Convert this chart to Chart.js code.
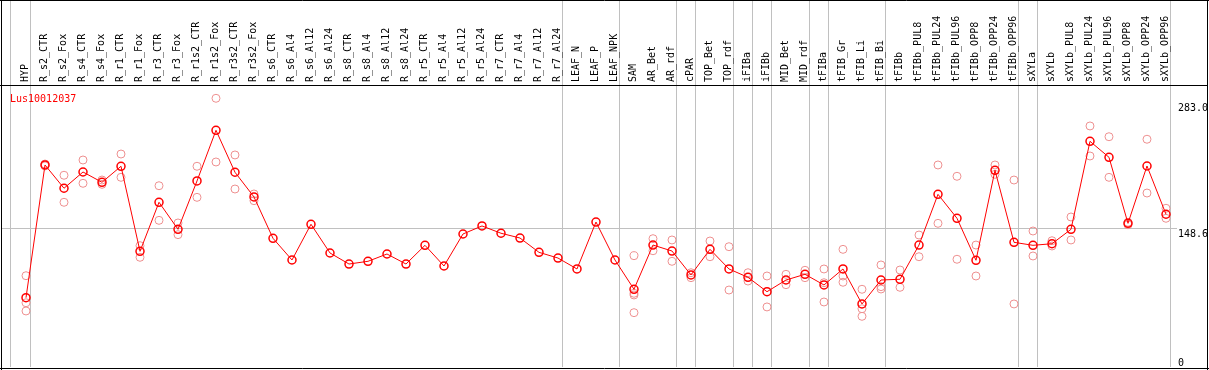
<html lang="en">
<head>
  <meta charset="UTF-8" />
  <title>Lus10012037</title>
  <script src="https://cdn.jsdelivr.net/npm/chart.js"></script>
  <style>
    body {
      margin: 0;
      background: white;
    }
    canvas {
      display: block;
    }
  </style>
</head>
<body>
  <canvas id="chart" width="1209" height="370"></canvas>

  <script>
    const geneName = "Lus10012037";

    const categories = [
      "HYP", "R_s2_CTR", "R_s2_Fox", "R_s4_CTR", "R_s4_Fox", "R_r1_CTR", "R_r1_Fox",
      "R_r3_CTR", "R_r3_Fox", "R_r1s2_CTR", "R_r1s2_Fox", "R_r3s2_CTR", "R_r3s2_Fox",
      "R_s6_CTR", "R_s6_Al4", "R_s6_Al12", "R_s6_Al24", "R_s8_CTR", "R_s8_Al4", "R_s8_Al12",
      "R_s8_Al24", "R_r5_CTR", "R_r5_Al4", "R_r5_Al12", "R_r5_Al24", "R_r7_CTR", "R_r7_Al4",
      "R_r7_Al12", "R_r7_Al24", "LEAF_N", "LEAF_P", "LEAF_NPK", "SAM", "AR_Bet", "AR_rdf",
      "cPAR", "TOP_Bet", "TOP_rdf", "iFIBa", "iFIBb", "MID_Bet", "MID_rdf", "tFIBa",
      "tFIB_Gr", "tFIB_Li", "tFIB_Bi", "tFIBb", "tFIBb_PUL8", "tFIBb_PUL24", "tFIBb_PUL96",
      "tFIBb_OPP8", "tFIBb_OPP24", "tFIBb_OPP96", "sXYLa", "sXYLb", "sXYLb_PUL8",
      "sXYLb_PUL24", "sXYLb_PUL96", "sXYLb_OPP8", "sXYLb_OPP24", "sXYLb_OPP96"
    ];

    // mean expression per sample
    const means = [
      74.1, 216.0, 191.1, 208.5, 197.5, 214.6, 123.7, 176.1, 147.2, 198.9, 253.1, 208.2, 181.8,
      137.6, 114.4, 152.6, 121.9, 110.1, 113.0, 120.8, 110.1, 130.1, 108.0, 142.2, 150.8,
      143.0, 137.9, 122.6, 116.5, 104.8, 155.0, 114.4, 83.1, 130.4, 124.0, 98.4, 125.8,
      104.8, 95.9, 80.5, 93.0, 99.1, 87.7, 104.8, 67.4, 93.0, 93.8, 130.4, 184.6, 159.0,
      114.1, 210.3, 133.3, 130.1, 131.8, 147.2, 241.3, 224.2, 153.6, 214.9, 163.3
    ];

    // replicates (null = no replicate shown)
    const repA = [
      97.6, 215, 205.0, 221.3, 199.9, 227.7, 129.7, 193.8, 154.0, 214.6, 287.3, 226.7, 185.0,
      null, null, null, null, null, null, null, null, null, null, null, null,
      null, null, null, null, null, null, null, 119.0, 137.2, 135.8, 100.8, 134.7,
      128.6, 100.8, 97.3, 99.1, 103.4, 104.8, 125.8, 83.1, 109.1, 103.7, 141.1, 216.0, 203.9,
      130.4, 216.0, 199.9, 145.4, 135.0, 160.4, 257.7, 246.2, 154.7, 243.5, 169.7
    ];
    const repB = [
      68.7, 217, 176.1, 196.4, 195.3, 202.8, 117.3, 156.8, 141.5, 181.4, 219.2, 190.3, 177.8,
      null, null, null, null, null, null, null, null, null, null, null, null,
      null, null, null, null, null, null, null, 78.8, 124.3, 113.0, 95.5, 117.9,
      82.3, 91.9, 64.2, 88.0, 95.5, 90.1, 97.3, 62.3, 85.9, 85.2, 117.9, 153.6, 115.2,
      97.3, 206.0, 67.4, 118.7, 129.4, 135.8, 225.6, 202.8, 152.1, 186.0, 159.0
    ];
    const repC = [
      59.9, null, null, null, null, null, null, null, null, null, null, null, null,
      null, null, null, null, null, null, null, null, null, null, null, null,
      null, null, null, null, null, null, null, 77.0, null, null, null, null,
      null, null, null, null, null, 69.5, 90.6, 54.2, 83.4, null, null, null, null,
      null, null, null, null, null, null, null, null, null, null, null
    ];
    const repD = [
      null, null, null, null, null, null, null, null, null, null, null, null, null,
      null, null, null, null, null, null, null, null, null, null, null, null,
      null, null, null, null, null, null, null, 58.1, null, null, null, null,
      null, null, null, null, null, null, null, null, null, null, null, null, null,
      null, null, null, null, null, null, null, null, null, null, null
    ];

    const yTicks = [0, 148.6, 283.0];
    const yMax = 301.5;
    // group separators (sit a quarter step right of a sample)
    const separators = [-0.8, 0.25, 28.25, 31.25, 34.25, 35.25, 37.25, 38.25, 39.25,
      41.25, 42.25, 45.25, 52.25, 53.25, 60.25];

    const X_MIN = -1.3158;
    const X_MAX = 60.579;
    const FONT = "DejaVu Sans Mono";

    const toPoints = arr => arr.map((v, i) => ({ x: i, y: v }));
    const noPad = s => { s.paddingLeft = 0; s.paddingRight = 0; };

    const repStyle = {
      type: "line",
      showLine: false,
      pointRadius: 4,
      pointBorderWidth: 1,
      pointBorderColor: "#ee9090",
      pointBackgroundColor: "transparent",
      order: 2
    };

    const framePlugin = {
      id: "frame",
      afterDraw(chart) {
        const ctx = chart.ctx;
        const y = chart.scales.y;
        ctx.save();
        ctx.strokeStyle = "#000";
        ctx.lineWidth = 1;
        ctx.beginPath();
        ctx.moveTo(0, 0.5); ctx.lineTo(1209, 0.5);
        ctx.moveTo(1.5, 0); ctx.lineTo(1.5, 370);
        ctx.moveTo(1207.5, 0); ctx.lineTo(1207.5, 370);
        ctx.moveTo(0, 368.5); ctx.lineTo(1209, 368.5);
        ctx.moveTo(0, 85.5); ctx.lineTo(1208, 85.5);
        ctx.stroke();

        ctx.font = "10px " + FONT;
        ctx.fillStyle = "#ff0000";
        ctx.textAlign = "left";
        ctx.textBaseline = "alphabetic";
        ctx.fillText(geneName, 10, 101.5);

        ctx.fillStyle = "#000";
        yTicks.forEach(v => {
          const py = y.getPixelForValue(v);
          const label = v === 0 ? "0" : v.toFixed(1);
          const base = v === 0 ? py - 1 : py + 8.5;
          ctx.fillText(label, 1178, base);
        });
        ctx.restore();
      }
    };

    new Chart(document.getElementById("chart").getContext("2d"), {
      type: "line",
      data: {
        datasets: [
          {
            data: toPoints(means),
            borderColor: "#ff0000",
            borderWidth: 1,
            pointRadius: 4,
            pointBorderWidth: 1.5,
            pointBorderColor: "#ff0000",
            pointBackgroundColor: "transparent",
            tension: 0,
            order: 1
          },
          { ...repStyle, data: toPoints(repA) },
          { ...repStyle, data: toPoints(repB) },
          { ...repStyle, data: toPoints(repC) },
          { ...repStyle, data: toPoints(repD) }
        ]
      },
      options: {
        responsive: false,
        animation: false,
        layout: { autoPadding: false, padding: { left: 1, right: 2, top: 0, bottom: 3 } },
        plugins: {
          legend: { display: false },
          tooltip: { enabled: false }
        },
        scales: {
          x: {
            type: "linear",
            min: X_MIN,
            max: X_MAX,
            display: false
          },
          xg: {
            type: "linear",
            position: "top",
            weight: 0,
            min: X_MIN,
            max: X_MAX,
            afterBuildTicks: s => { s.ticks = separators.map(v => ({ value: v })); },
            afterFit: s => { s.height = 0; noPad(s); },
            ticks: { display: false },
            grid: { color: "#c0c0c0", lineWidth: 1, drawTicks: true, tickLength: 85 },
            border: { display: false }
          },
          labels: {
            type: "linear",
            position: "top",
            weight: 1,
            min: X_MIN,
            max: X_MAX,
            afterBuildTicks: s => { s.ticks = categories.map((c, i) => ({ value: i })); },
            afterFit: s => { s.height = 85; noPad(s); },
            ticks: {
              autoSkip: false,
              minRotation: 90,
              maxRotation: 90,
              padding: 3,
              labelOffset: 11,
              color: "#000",
              font: { family: FONT, size: 10 },
              callback: v => categories[v]
            },
            grid: { display: false, drawTicks: false },
            border: { display: false }
          },
          y: {
            type: "linear",
            position: "right",
            min: 0,
            max: yMax,
            afterBuildTicks: s => { s.ticks = yTicks.map(v => ({ value: v })); },
            afterFit: s => { s.width = 30; },
            ticks: { display: false },
            grid: {
              drawTicks: false,
              color: c => (c.tick && c.tick.value === 148.6 ? "#c0c0c0" : "transparent")
            },
            border: { display: false }
          }
        }
      },
      plugins: [framePlugin]
    });
  </script>
</body>
</html>
